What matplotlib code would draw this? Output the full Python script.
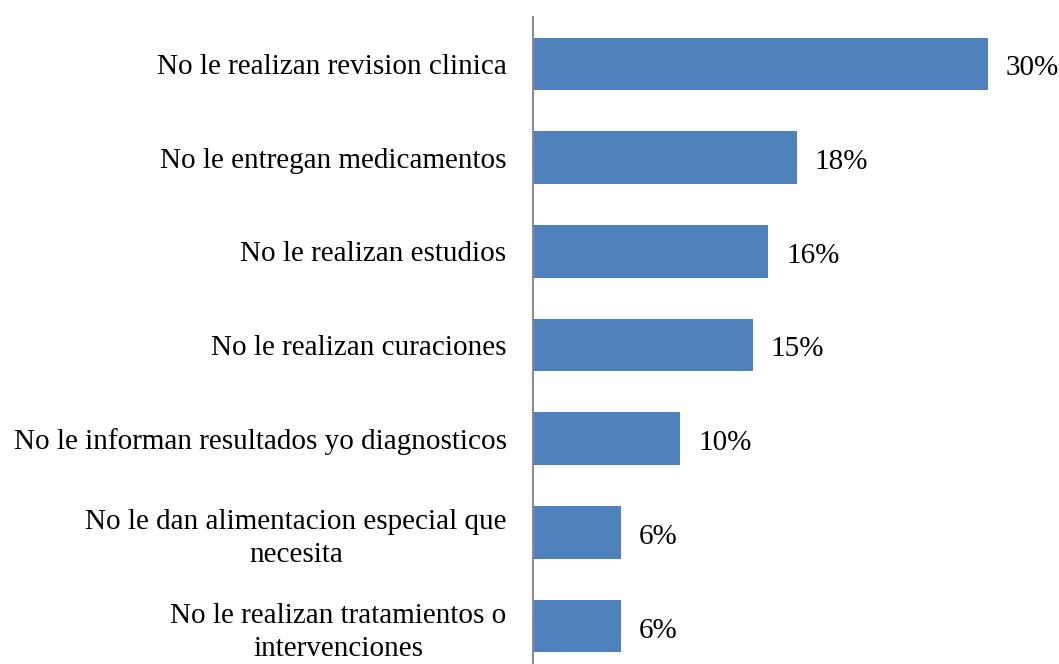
import matplotlib
matplotlib.use("Agg")
import matplotlib.pyplot as plt

# categories, top to bottom
categories = [
    "No le realizan revision clinica",
    "No le entregan medicamentos",
    "No le realizan estudios",
    "No le realizan curaciones",
    "No le informan resultados yo diagnosticos",
    "No le dan alimentacion especial que\nnecesita",
    "No le realizan tratamientos o\nintervenciones",
]
values = [30.0, 17.4, 15.5, 14.5, 9.7, 5.8, 5.8]
value_labels = ["30%", "18%", "16%", "15%", "10%", "6%", "6%"]

plt.rcParams["font.family"] = ["Liberation Serif", "DejaVu Serif"]

fig = plt.figure(figsize=(10.59, 6.64), dpi=100)
ax = fig.add_axes([533 / 1059, -9 / 664, 526 / 1059, 656 / 664])

pos = list(range(len(categories)))
ax.barh(pos, values, height=0.56, color="#4F81BD")
ax.set_ylim(len(categories) - 0.5, -0.5)
ax.set_xlim(0, 34.7)

for p, v, lab in zip(pos, values, value_labels):
    ax.annotate(lab, (v, p), xytext=(13, -1), textcoords="offset points",
                va="center_baseline", ha="left", fontsize=21)

ax.set_yticks(pos)
ax.set_yticklabels(categories, fontsize=21, multialignment="center",
                   linespacing=1.35)
ax.tick_params(axis="y", length=0, pad=19)
ax.set_xticks([])

for side in ["top", "right", "bottom"]:
    ax.spines[side].set_visible(False)
ax.spines["left"].set_color("#8c8c8c")
ax.spines["left"].set_linewidth(1.5)

fig.savefig("out.png", dpi=100)
